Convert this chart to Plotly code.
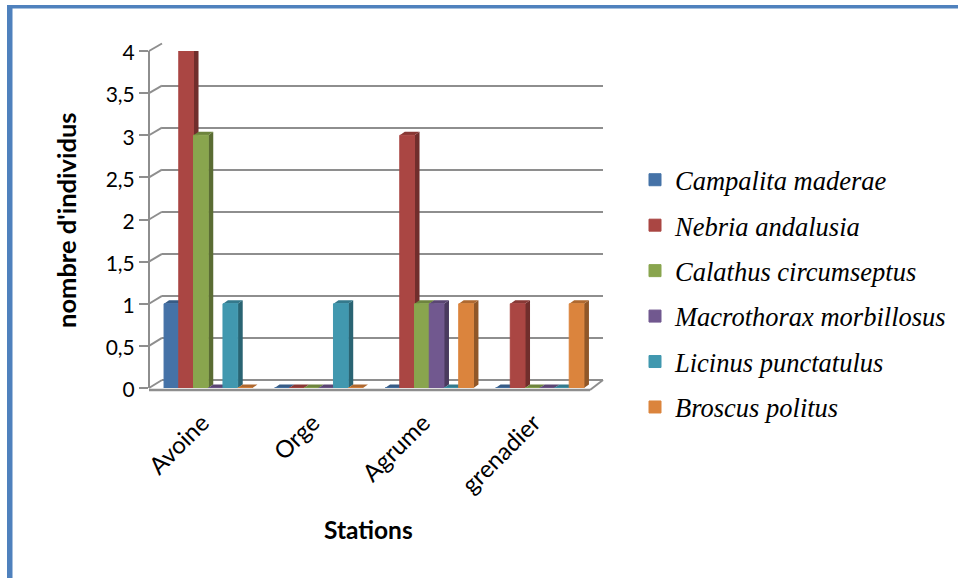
import plotly.graph_objects as go

WIDTH, HEIGHT = 958, 578

stations = ["Avoine", "Orge", "Agrume", "grenadier"]
campalita = [1, 0, 0, 0]
nebria = [4, 0, 3, 1]
calathus = [3, 0, 1, 0]
macrothorax = [0, 0, 1, 0]
licinus = [1, 1, 0, 0]
broscus = [0, 0, 1, 1]

species = [
    ("Campalita maderae", campalita, "#4572a7"),
    ("Nebria andalusia", nebria, "#aa4643"),
    ("Calathus circumseptus", calathus, "#89a54e"),
    ("Macrothorax morbillosus", macrothorax, "#71588f"),
    ("Licinus punctatulus", licinus, "#4198af"),
    ("Broscus politus", broscus, "#db843d"),
]

GRID = "#8e8e8e"
FRAME = "#4f81bd"


def px_x(p):
    return p / WIDTH


def px_y(p):
    return 1 - p / HEIGHT


def shade(colour, factor):
    r, g, b = (int(colour[i:i + 2], 16) for i in (1, 3, 5))
    return f"rgb({int(r * factor)},{int(g * factor)},{int(b * factor)})"


# Plot geometry: the front plane, the back wall and the depth of each column
FRONT_X = (153, 595)
FRONT_Y = (388, 51)
BACK_X = (162, 603)
BACK_Y = (380, 43.5)
UNIT_X = (FRONT_X[1] - FRONT_X[0]) / 4
UNIT_Y = (FRONT_Y[0] - FRONT_Y[1]) / 4
DEPTH_X = 5 / UNIT_X
DEPTH_Y = 3.5 / UNIT_Y
GROUP = 0.8
BAR = GROUP / len(species)

fig = go.Figure()

# Side and top faces of the columns, computed from the same values as the bars
for k, (name, values, colour) in enumerate(species):
    side_x, side_y, top_x, top_y = [], [], [], []
    for i, v in enumerate(values):
        left = i - GROUP / 2 + k * BAR
        right = left + BAR
        top_x += [left, right, right + DEPTH_X, left + DEPTH_X, left, None]
        top_y += [v, v, v + DEPTH_Y, v + DEPTH_Y, v, None]
        if v > 0:
            side_x += [right, right + DEPTH_X, right + DEPTH_X, right, right, None]
            side_y += [0, DEPTH_Y, v + DEPTH_Y, v, 0, None]
    for xs, ys, factor in ((side_x, side_y, 0.66), (top_x, top_y, 0.8)):
        if xs:
            fig.add_trace(go.Scatter(
                x=xs, y=ys, mode="lines", fill="toself", fillcolor=shade(colour, factor),
                line=dict(width=0), hoverinfo="skip", showlegend=False,
                cliponaxis=False, xaxis="x2", yaxis="y2",
            ))

# Front faces
for k, (name, values, colour) in enumerate(species):
    fig.add_trace(go.Bar(
        x=list(range(len(stations))), y=values, name=name,
        marker=dict(color=colour, line=dict(color=colour, width=1)),
        legendgroup=name, xaxis="x3", yaxis="y3", cliponaxis=False,
    ))

# An empty trace ties the back wall axes to the figure so its gridlines are drawn
fig.add_trace(go.Scatter(x=[], y=[], xaxis="x", yaxis="y", showlegend=False, hoverinfo="skip"))

shapes = []
line = dict(color=GRID, width=2)
# Oblique lines joining the front axis to the back wall
for t in [0, 0.5, 1, 1.5, 2, 2.5, 3, 3.5, 4]:
    shapes.append(dict(
        type="line", xref="paper", yref="paper", layer="below",
        x0=px_x(149), x1=px_x(BACK_X[0]),
        y0=px_y(FRONT_Y[0] - t * UNIT_Y), y1=px_y(BACK_Y[0] - t * (BACK_Y[0] - BACK_Y[1]) / 4),
        line=line,
    ))
# Floor outline
shapes.append(dict(type="line", xref="paper", yref="paper", layer="below",
                   x0=px_x(149), x1=px_x(590), y0=px_y(390), y1=px_y(390),
                   line=dict(color=GRID, width=2.5)))
shapes.append(dict(type="line", xref="paper", yref="paper", layer="below",
                   x0=px_x(590), x1=px_x(BACK_X[1]), y0=px_y(390), y1=px_y(BACK_Y[0]),
                   line=line))
# Blue page frame
shapes.append(dict(type="rect", xref="paper", yref="paper", layer="below",
                   x0=px_x(7), x1=px_x(12.5), y0=0, y1=px_y(5),
                   fillcolor=FRAME, line=dict(width=0)))
shapes.append(dict(type="rect", xref="paper", yref="paper", layer="below",
                   x0=px_x(7), x1=1, y0=px_y(8.5), y1=px_y(5),
                   fillcolor=FRAME, line=dict(width=0)))

fig.update_layout(
    width=WIDTH, height=HEIGHT, autosize=False,
    margin=dict(l=0, r=0, t=0, b=0, autoexpand=False),
    paper_bgcolor="white", plot_bgcolor="rgba(0,0,0,0)",
    barmode="group", bargap=1 - GROUP, bargroupgap=0,
    separators=", ",
    shapes=shapes,
    font=dict(family="Lato", color="#000000"),
    # back wall
    xaxis=dict(domain=[px_x(BACK_X[0]), px_x(BACK_X[1])], range=[0, 1], visible=False,
               anchor="y"),
    yaxis=dict(domain=[px_y(BACK_Y[0]), px_y(BACK_Y[1])], range=[0, 4], dtick=0.5,
               showgrid=True, gridcolor=GRID, gridwidth=2, zeroline=True,
               zerolinecolor=GRID, zerolinewidth=2,
               showticklabels=False, ticks="", showline=False, anchor="x"),
    # column depth layer, also carries the visible value axis
    xaxis2=dict(domain=[px_x(FRONT_X[0]), px_x(FRONT_X[1])], range=[-0.5, 3.5], visible=False,
                anchor="y2"),
    yaxis2=dict(domain=[px_y(FRONT_Y[0]), px_y(FRONT_Y[1])], range=[0, 4], dtick=0.5,
                showgrid=False, zeroline=False, anchor="free", position=px_x(149),
                showline=True, linecolor=GRID, linewidth=2,
                ticks="outside", ticklen=9, tickwidth=2, tickcolor=GRID, ticklabelshift=2,
                tickfont=dict(family="Lato", size=21, color="#000000")),
    # front faces, also carries the station labels
    xaxis3=dict(overlaying="x2", anchor="y3", range=[-0.5, 3.5],
                tickvals=list(range(len(stations))), ticktext=stations, tickangle=-45,
                tickfont=dict(family="Lato", size=24, color="#000000"),
                showgrid=False, zeroline=False, showline=False, ticks="",
                ticklabelstandoff=15, ticklabelshift=-6),
    yaxis3=dict(overlaying="y2", anchor="x3", range=[0, 4], visible=False),
    legend=dict(
        x=px_x(635), y=px_y(156), xanchor="left", yanchor="top",
        font=dict(family="Liberation Serif", size=26.5, style="italic", color="#000000"),
        tracegroupgap=8, itemclick=False, itemdoubleclick=False,
        bgcolor="rgba(0,0,0,0)",
    ),
    annotations=[
        dict(text="<b>nombre d'individus</b>", xref="paper", yref="paper",
             x=px_x(66), y=px_y(220), textangle=-90, showarrow=False,
             xanchor="center", yanchor="middle",
             font=dict(family="Lato", size=25.5, color="#000000")),
        dict(text="<b>Stations</b>", xref="paper", yref="paper",
             x=px_x(368), y=px_y(529), showarrow=False,
             xanchor="center", yanchor="middle",
             font=dict(family="Lato", size=24.5, color="#000000")),
    ],
)

fig.write_html("out.html")
